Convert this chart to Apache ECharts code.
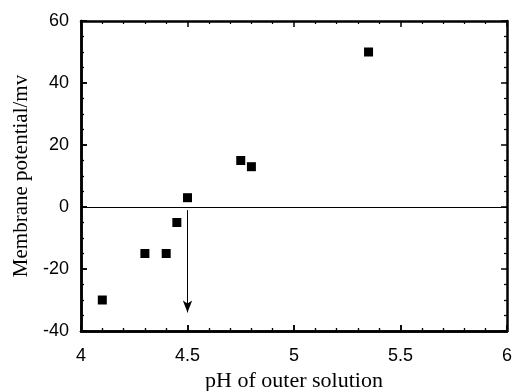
<!DOCTYPE html>
<html><head><meta charset="utf-8">
<script src="https://cdn.jsdelivr.net/npm/echarts@6/dist/echarts.min.js"></script>
<style>html,body{margin:0;padding:0;background:#fff}#c{width:514px;height:391px}</style>
</head><body><div id="c"></div>
<script>
const phValues = [4.1, 4.3, 4.4, 4.45, 4.5, 4.75, 4.8, 5.35];
const potentialValues = [-30, -15, -15, -5, 3, 15, 13, 50];
const xTicks = [4, 4.5, 5, 5.5, 6];
const yTicks = [-40, -20, 0, 20, 40, 60];
const arrowStart = [4.5, -1];
const arrowEnd = [4.5, -34];
const zeroLineY = 0;

const chart = echarts.init(document.getElementById('c'), null, {renderer: 'canvas'});
const axisLine = () => ({show: true, onZero: false, lineStyle: {color: '#000', width: 2.5}});
const tick = () => ({show: true, inside: true, length: 6, lineStyle: {color: '#000', width: 1.5}});
const minor = (n) => ({show: true, splitNumber: n, length: 3, lineStyle: {color: '#000', width: 1.2}});
const tickFont = () => ({color: '#000', fontFamily: 'Liberation Sans', fontSize: 18});
const gridRect = {left: 81, right: 7, top: 21, bottom: 60, containLabel: false, outerBoundsMode: 'none'};
const xMin = xTicks[0], xMax = xTicks[xTicks.length - 1];
const yMin = yTicks[0], yMax = yTicks[yTicks.length - 1];

const tickAxisX = (pos) => ({
  gridIndex: 1, type: 'value', min: xMin, max: xMax, interval: 0.5, position: pos,
  axisLine: axisLine(), axisTick: tick(), minorTick: minor(5), splitLine: {show: false}, axisLabel: {show: false}
});
const tickAxisY = (pos) => ({
  gridIndex: 1, type: 'value', min: yMin, max: yMax, interval: 20, position: pos,
  axisLine: axisLine(), axisTick: tick(), minorTick: minor(4), splitLine: {show: false}, axisLabel: {show: false}
});

chart.setOption({
  animation: false,
  grid: [Object.assign({}, gridRect), Object.assign({}, gridRect)],
  xAxis: [{
    gridIndex: 0, type: 'value', min: xMin, max: xMax, interval: 0.5,
    position: 'bottom',
    name: 'pH of outer solution', nameLocation: 'middle', nameGap: 37,
    nameTextStyle: {color: '#000', fontFamily: 'Liberation Serif', fontSize: 22},
    axisLine: axisLine(), axisTick: tick(), minorTick: minor(5), splitLine: {show: false},
    axisLabel: Object.assign({margin: 16, formatter: v => String(v)}, tickFont())
  }, tickAxisX('bottom'), tickAxisX('top')],
  yAxis: [{
    gridIndex: 0, type: 'value', min: yMin, max: yMax, interval: 20,
    position: 'left',
    name: 'Membrane potential/mv', nameLocation: 'middle', nameGap: 42,
    nameTextStyle: {color: '#000', fontFamily: 'Liberation Serif', fontSize: 21},
    axisLine: axisLine(), axisTick: tick(), minorTick: minor(4), splitLine: {show: false},
    axisLabel: Object.assign({margin: 12}, tickFont())
  }, tickAxisY('left'), tickAxisY('right')],
  series: [{
    type: 'scatter', xAxisIndex: 0, yAxisIndex: 0, symbol: 'rect', symbolSize: 9,
    itemStyle: {color: '#000', opacity: 1},
    data: phValues.map((x, i) => [x, potentialValues[i]]),
    markLine: {
      silent: true, animation: false,
      label: {show: false},
      data: [
        [{coord: [xMin, zeroLineY], symbol: 'none'}, {coord: [xMax, zeroLineY], symbol: 'none'}],
        [{coord: arrowStart, symbol: 'none'}, {coord: arrowEnd, symbol: 'arrow', symbolSize: [7, 12]}]
      ],
      lineStyle: {color: '#000', width: 1, type: 'solid', opacity: 1}
    }
  }]
});
</script></body></html>
